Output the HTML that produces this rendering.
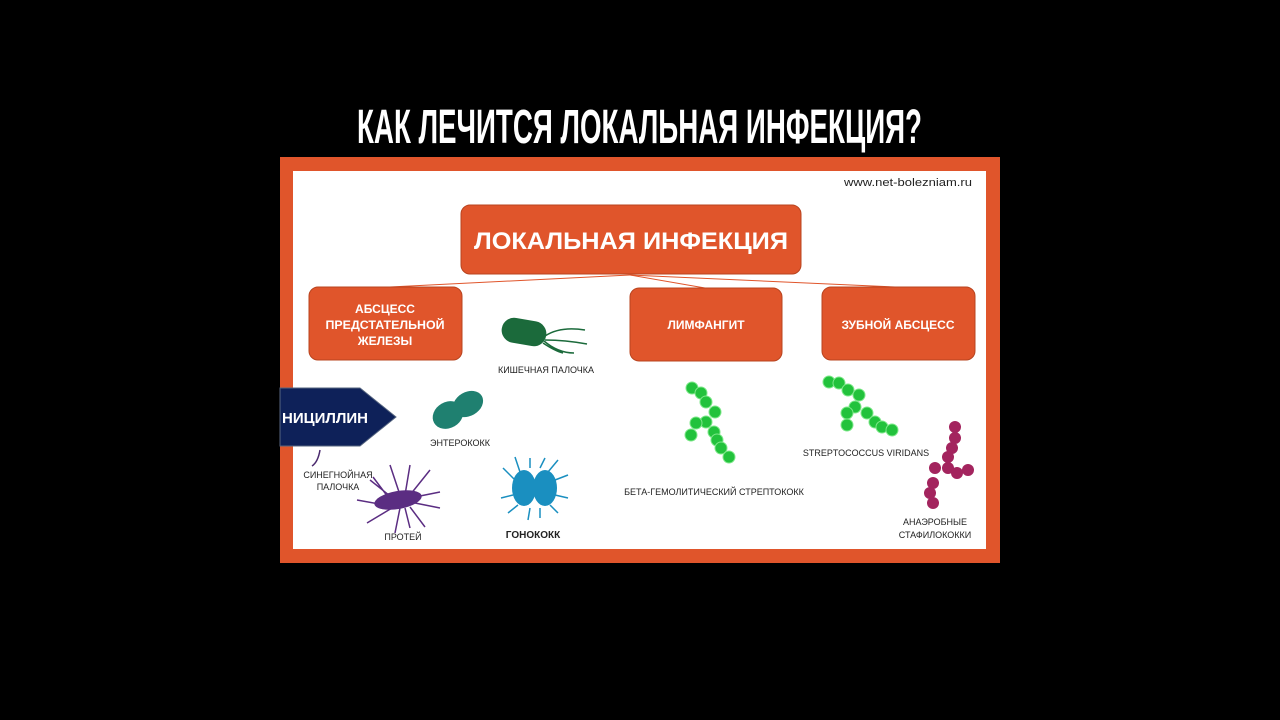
<!DOCTYPE html>
<html><head><meta charset="utf-8"><style>
html,body{margin:0;padding:0;background:#000;width:1280px;height:720px;overflow:hidden}
svg{display:block}
text{font-family:"Liberation Sans",sans-serif}
</style></head><body>
<svg width="1280" height="720" viewBox="0 0 1280 720" xmlns="http://www.w3.org/2000/svg">
<rect width="1280" height="720" fill="#000"/>
<text x="357" y="143" font-size="48" font-weight="bold" fill="#fff" textLength="565" lengthAdjust="spacingAndGlyphs">КАК ЛЕЧИТСЯ ЛОКАЛЬНАЯ ИНФЕКЦИЯ?</text>
<rect x="280" y="157" width="720" height="406" fill="#e0552b"/>
<rect x="293" y="171" width="693" height="378" fill="#fff"/>
<text x="844" y="186" font-size="11" fill="#222" textLength="128" lengthAdjust="spacingAndGlyphs">www.net-bolezniam.ru</text>
<!-- connectors -->
<g stroke="#e0552b" stroke-width="1" fill="none">
<line x1="630" y1="275" x2="390" y2="287"/>
<line x1="630" y1="275" x2="705" y2="288"/>
<line x1="630" y1="275" x2="895" y2="287"/>
</g>
<g fill="#e0552b" stroke="#b8441f" stroke-width="1">
<rect x="461" y="205" width="340" height="69" rx="9"/>
<rect x="309" y="287" width="153" height="73" rx="9"/>
<rect x="630" y="288" width="152" height="73" rx="9"/>
<rect x="822" y="287" width="153" height="73" rx="9"/>
</g>
<g fill="#fff" font-weight="bold" text-anchor="middle">
<text x="631" y="249" font-size="24" textLength="314" lengthAdjust="spacingAndGlyphs">ЛОКАЛЬНАЯ ИНФЕКЦИЯ</text>
<text x="385" y="313" font-size="12">АБСЦЕСС</text>
<text x="385" y="329" font-size="12" textLength="119" lengthAdjust="spacingAndGlyphs">ПРЕДСТАТЕЛЬНОЙ</text>
<text x="385" y="345" font-size="12">ЖЕЛЕЗЫ</text>
<text x="706" y="329" font-size="12">ЛИМФАНГИТ</text>
<text x="898" y="329" font-size="12">ЗУБНОЙ АБСЦЕСС</text>
</g>
<!-- penicillin arrow -->
<polygon points="280,388 360,388 396,417 360,446 280,446" fill="#0e2159" stroke="#56657f" stroke-width="1"/>
<text x="282" y="423" font-size="15" font-weight="bold" fill="#fff">НИЦИЛЛИН</text>
<!-- E. coli -->
<g fill="#1b6a3b" stroke="#1b6a3b">
<rect x="502" y="320" width="44" height="24" rx="12" transform="rotate(10 524 332)"/>
<path d="M545 336 q15 -10 40 -6 M545 340 q20 0 42 4 M543 343 q12 8 20 10 M544 341 q14 12 30 12" fill="none" stroke-width="1.5"/>
</g>
<text x="546" y="373" font-size="9" text-anchor="middle" fill="#222">КИШЕЧНАЯ ПАЛОЧКА</text>
<!-- enterococcus -->
<g fill="#1f8070"><ellipse cx="448" cy="415" rx="16" ry="13" transform="rotate(-30 448 415)"/><ellipse cx="468" cy="404" rx="16" ry="12" transform="rotate(-30 468 404)"/></g>
<text x="460" y="446" font-size="9" text-anchor="middle" fill="#222">ЭНТЕРОКОКК</text>
<text x="338" y="478" font-size="9" text-anchor="middle" fill="#222">СИНЕГНОЙНАЯ</text>
<text x="338" y="490" font-size="9" text-anchor="middle" fill="#222">ПАЛОЧКА</text>
<path d="M320 450 q-2 12 -8 16" stroke="#4b2a6e" fill="none" stroke-width="1.5"/>
<!-- proteus -->
<g stroke="#5b2d82" stroke-width="1.5" fill="none">
<path d="M395 500 l-25 -20 M400 495 l-10 -30 M405 495 l5 -30 M410 495 l20 -25 M415 497 l25 -5 M415 503 l25 5 M410 507 l15 20 M400 508 l-5 25 M392 508 l-25 15 M385 505 l-28 -5 M388 497 l-15 -20 M405 508 l5 20"/>
</g>
<ellipse cx="398" cy="500" rx="24" ry="9" fill="#5b2d82" transform="rotate(-10 398 500)"/>
<text x="403" y="540" font-size="9" text-anchor="middle" fill="#222">ПРОТЕЙ</text>
<!-- gonococcus -->
<g stroke="#1a8fc0" stroke-width="1.5" fill="none">
<path d="M515 480 l-12 -12 M520 472 l-5 -15 M530 468 l0 -10 M540 468 l5 -10 M548 472 l10 -12 M555 480 l13 -5 M555 495 l13 3 M550 505 l8 8 M540 508 l0 10 M530 508 l-2 12 M518 505 l-10 8 M513 495 l-12 3"/>
</g>
<ellipse cx="524" cy="488" rx="12" ry="18" fill="#1a8fc0"/>
<ellipse cx="545" cy="488" rx="12" ry="18" fill="#1a8fc0"/>
<text x="533" y="538" font-size="10" font-weight="bold" text-anchor="middle" fill="#222">ГОНОКОКК</text>
<!-- beta strep -->
<g fill="#22c23c" stroke="#7ee88a" stroke-width="1">
<circle cx="692" cy="388" r="6"/><circle cx="701" cy="393" r="6"/><circle cx="706" cy="402" r="6"/><circle cx="715" cy="412" r="6"/><circle cx="706" cy="422" r="6"/><circle cx="696" cy="423" r="6"/><circle cx="691" cy="435" r="6"/><circle cx="714" cy="432" r="6"/><circle cx="717" cy="440" r="6"/><circle cx="721" cy="448" r="6"/><circle cx="729" cy="457" r="6"/>
</g>
<text x="714" y="495" font-size="9" text-anchor="middle" fill="#222">БЕТА-ГЕМОЛИТИЧЕСКИЙ СТРЕПТОКОКК</text>
<!-- viridans -->
<g fill="#22c23c" stroke="#7ee88a" stroke-width="1">
<circle cx="829" cy="382" r="6"/><circle cx="839" cy="383" r="6"/><circle cx="848" cy="390" r="6"/><circle cx="859" cy="395" r="6"/><circle cx="855" cy="407" r="6"/><circle cx="847" cy="413" r="6"/><circle cx="867" cy="413" r="6"/><circle cx="847" cy="425" r="6"/><circle cx="875" cy="422" r="6"/><circle cx="882" cy="427" r="6"/><circle cx="892" cy="430" r="6"/>
</g>
<text x="866" y="456" font-size="9" text-anchor="middle" fill="#222">STREPTOCOCCUS VIRIDANS</text>
<!-- staph -->
<g fill="#a3245e">
<circle cx="955" cy="427" r="6"/><circle cx="955" cy="438" r="6"/><circle cx="952" cy="448" r="6"/><circle cx="948" cy="457" r="6"/><circle cx="935" cy="468" r="6"/><circle cx="948" cy="468" r="6"/><circle cx="957" cy="473" r="6"/><circle cx="968" cy="470" r="6"/><circle cx="933" cy="483" r="6"/><circle cx="930" cy="493" r="6"/><circle cx="933" cy="503" r="6"/>
</g>
<text x="935" y="525" font-size="9" text-anchor="middle" fill="#222">АНАЭРОБНЫЕ</text>
<text x="935" y="538" font-size="9" text-anchor="middle" fill="#222">СТАФИЛОКОККИ</text>
</svg>
</body></html>
